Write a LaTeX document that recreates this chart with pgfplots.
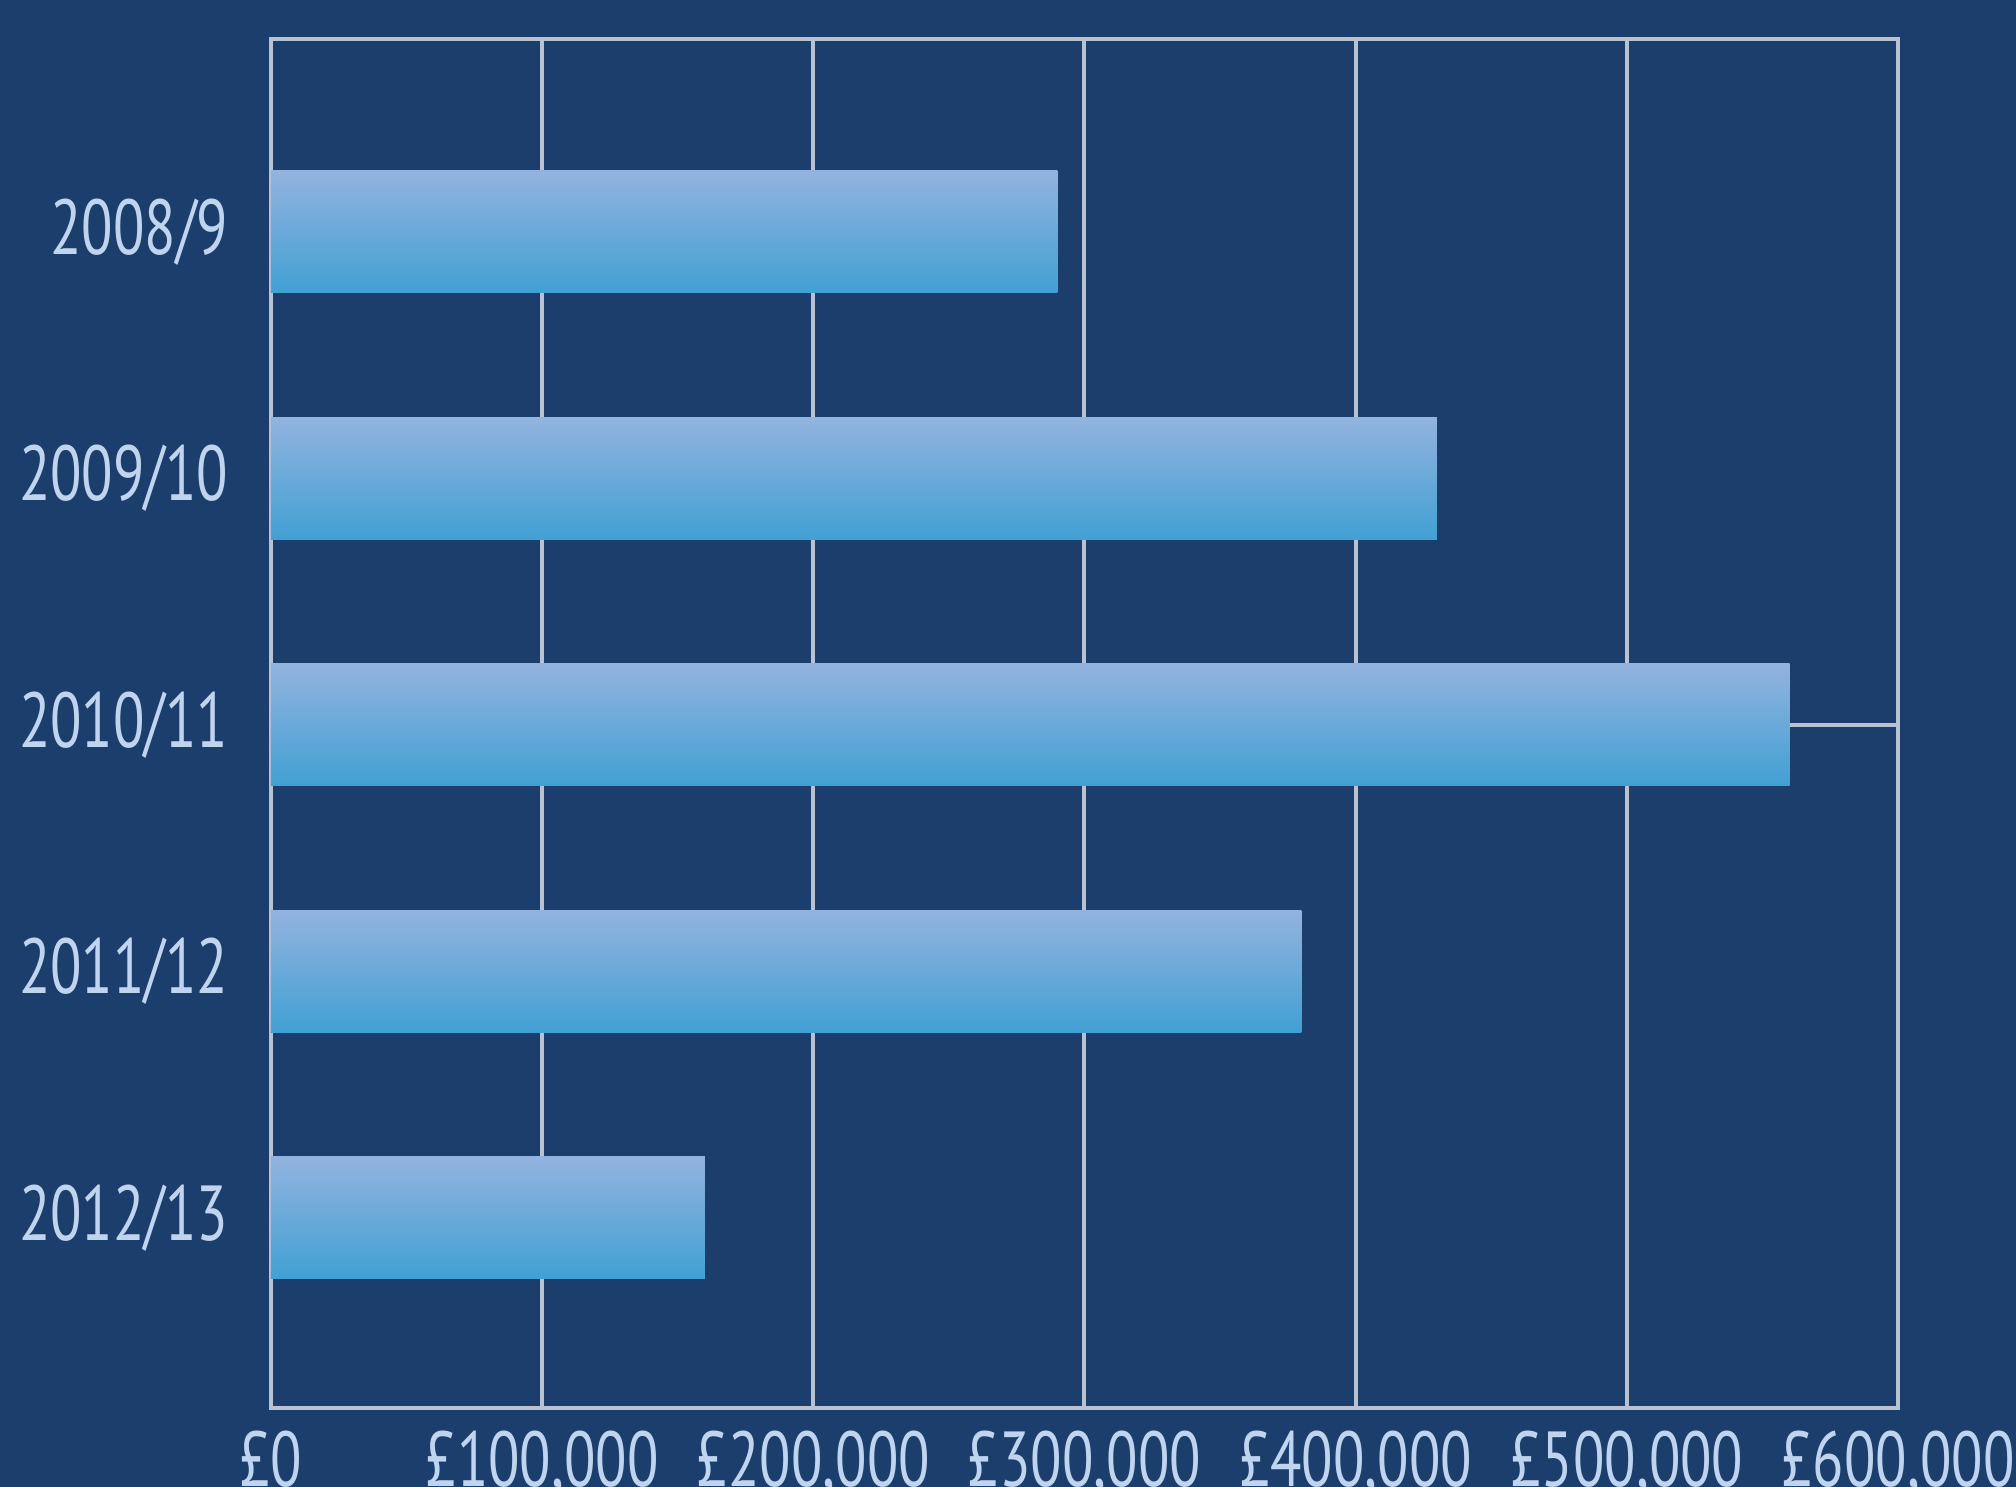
\documentclass[border=0pt]{standalone}
\usepackage{fontspec}
\setmainfont[FakeStretch=0.74]{PT Sans}
\usepackage{pgfplots}
\pgfplotsset{compat=1.18}
\definecolor{bg}{HTML}{1B3E6C}
\definecolor{txt}{HTML}{BFD4EE}
\definecolor{gridc}{HTML}{B9C2D2}
\definecolor{bartop}{HTML}{93B3DF}
\definecolor{barmid}{HTML}{6EA9DA}
\definecolor{barbot}{HTML}{41A0D3}
\pgfplotsset{mybar/.style={xbar, bar width=0.495, bar shift=0pt, draw=none, top color=bartop, middle color=barmid, bottom color=barbot}}
\begin{document}
\begin{tikzpicture}
\fill[bg] (-67.75pt,-19.75pt) rectangle (436.25pt,352pt);
\begin{axis}[
  at={(0,0)}, anchor=south west,
  scale only axis, width=406.75pt, height=342.25pt,
  xmin=0, xmax=600000, ymin=0.228, ymax=5.782,
  xtick={0,100000,200000,300000,400000,500000,600000},
  xticklabels={£0,{£100,000},{£200,000},{£300,000},{£400,000},{£500,000},{£600,000}},
  ytick={1,2,3,4,5},
  yticklabels={2012/13,2011/12,2010/11,2009/10,2008/9},
  major tick length=0pt,
  xmajorgrids, ymajorgrids=false,
  major grid style={gridc, line width=1pt},
  axis line style={gridc, line width=1pt},
  tick label style={font=\fontsize{19.5}{22}\selectfont, text=txt, inner sep=0pt},
  xticklabel style={anchor=north, yshift=-5.5pt},
  yticklabel style={anchor=east, xshift=-10.5pt},
  scaled x ticks=false,
]
\addplot[mybar] coordinates {(290000,5)};
\addplot[mybar] coordinates {(430000,4)};
\addplot[mybar] coordinates {(560000,3)};
\addplot[mybar] coordinates {(380000,2)};
\addplot[mybar] coordinates {(160000,1)};
\addplot[gridc, line width=1pt] coordinates {(560000,3) (600000,3)};
\end{axis}
\pgfresetboundingbox
\useasboundingbox (-67.75pt,-19.75pt) rectangle (436.25pt,352pt);
\end{tikzpicture}
\end{document}
